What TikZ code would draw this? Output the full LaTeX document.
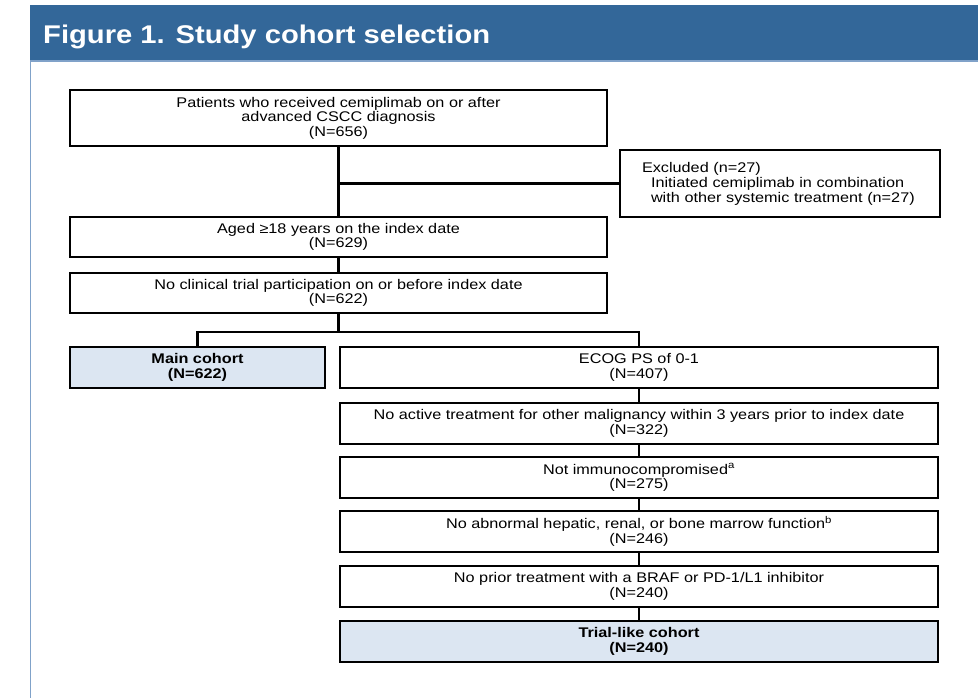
\documentclass[tikz,border=0pt]{standalone}
\usepackage{fontspec}
\setmainfont{Liberation Sans}[FakeStretch=1.16]
\newfontfamily\titlefont{Liberation Sans}[FakeStretch=1.14]
\usetikzlibrary{positioning}

\definecolor{bandblue}{RGB}{51,103,153}
\definecolor{edgeblue}{RGB}{128,162,201}
\definecolor{cohortfill}{RGB}{220,230,242}

\tikzset{
	stage/.style={draw=black, line width=1.8pt, fill=white, align=center, inner sep=0pt,
		font=\fontsize{14}{14.5}\selectfont},
	cohort/.style={stage, fill=cohortfill, font=\fontsize{14}{14.5}\selectfont\bfseries},
	link/.style={line width=2.2pt}
}

\begin{document}
\begin{tikzpicture}[x=1pt, y=-1pt]
		\useasboundingbox (0,0) rectangle (978,698);

		% title band and left rule
		\fill[bandblue] (30,5) rectangle (978,61);
		\draw[edgeblue, line width=1.2pt] (30,61) -- (978,61);
		\draw[edgeblue, line width=1.5pt] (30.5,61) -- (30.5,698);
		\node[anchor=base west, text=white, font=\titlefont\fontsize{25.6}{28}\selectfont\bfseries,
			inner sep=0pt] (title) at (43,43.5) {Figure 1. Study cohort selection};

		% left column
		\node[stage, minimum width=537pt, minimum height=56pt] (all) at (338.5,118)
			{Patients who received cemiplimab on or after\\advanced CSCC diagnosis\\(N=656)};
		\node[stage, minimum width=320pt, minimum height=67pt, text width=276pt, align=left,
			inner xsep=22pt, font=\fontsize{14}{15}\selectfont] (excl) at (780,183.5)
			{Excluded (n=27)\\\hspace*{9pt}Initiated cemiplimab in combination\\\hspace*{9pt}with other systemic treatment (n=27)};
		\node[stage, minimum width=537pt, minimum height=40pt] (aged) at (338.5,237)
			{Aged ≥18 years on the index date\\(N=629)};
		\node[stage, minimum width=537pt, minimum height=40pt] (notrial) at (338.5,293)
			{No clinical trial participation on or before index date\\(N=622)};
		\node[cohort, minimum width=255pt, minimum height=41pt] (main) at (197.5,367.5)
			{Main cohort\\(N=622)};

		% right column
		\foreach \y/\id/\txt in {
				367.5/ecog/{ECOG PS of 0-1\\(N=407)},
				423.5/noactive/{No active treatment for other malignancy within 3 years prior to index date\\(N=322)},
				477.5/immuno/{Not immunocompromised\textsuperscript{a}\\(N=275)},
				531.5/organ/{No abnormal hepatic, renal, or bone marrow function\textsuperscript{b}\\(N=246)},
				586.5/noprior/{No prior treatment with a BRAF or PD-1/L1 inhibitor\\(N=240)}}
			\node[stage, minimum width=598pt, minimum height=41pt] (\id) at (639,\y) {\txt};
		\node[cohort, minimum width=598pt, minimum height=41pt] (triallike) at (639,641.5)
			{Trial-like cohort\\(N=240)};

		% connectors
		\draw[link] (all.south) -- (aged.north);
		\draw[link] (all.south |- excl.west) -- (excl.west);
		\draw[link] (aged.south) -- (notrial.north);
		\coordinate (split) at ([yshift=-18pt]notrial.south);
		\draw[link] (notrial.south) -- (split);
		\draw[link] (main.north) |- (split) -| (ecog.north);
		\foreach \a/\b in {ecog/noactive, noactive/immuno, immuno/organ, organ/noprior, noprior/triallike}
			\draw[link] (\a.south) -- (\b.north);
	\end{tikzpicture}
\end{document}
